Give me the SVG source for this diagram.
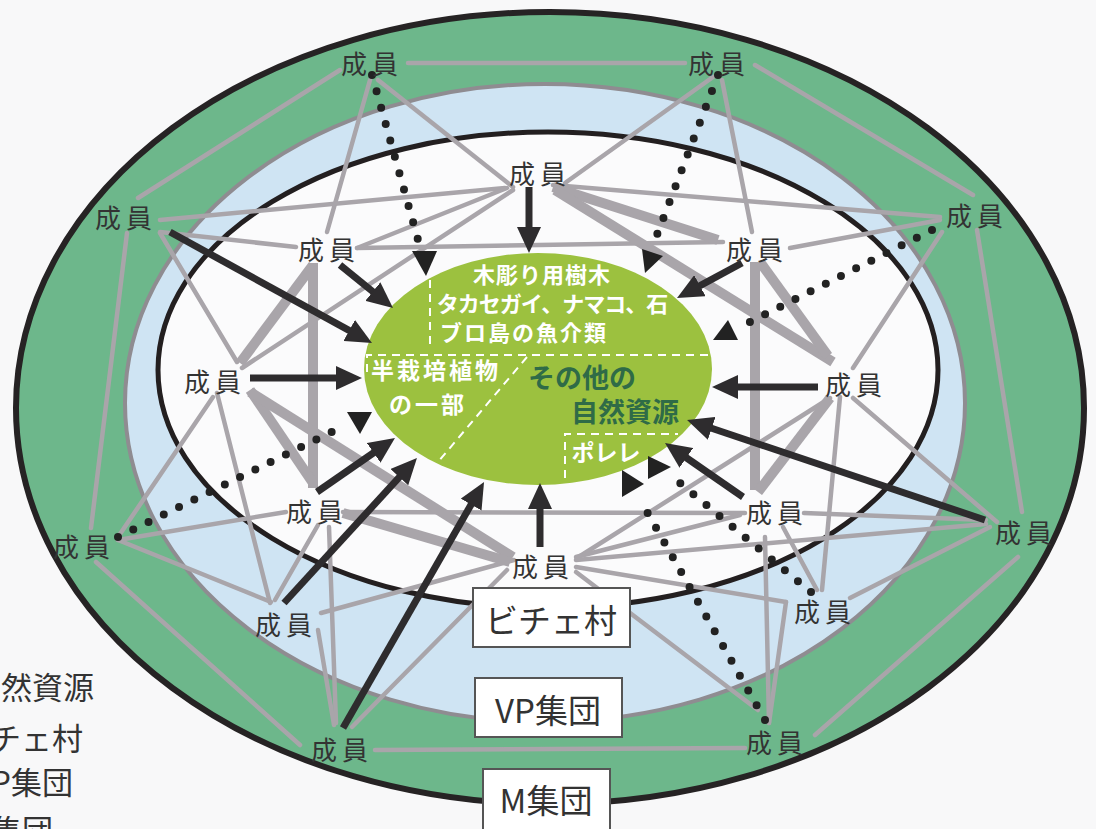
<svg xmlns="http://www.w3.org/2000/svg" width="1096" height="829" viewBox="0 0 1096 829">
<style>
.g{stroke:#a9a5aa;stroke-width:4.5;fill:none;stroke-linecap:round}
.k{stroke:#a9a5aa;stroke-width:10;fill:none;stroke-linecap:butt}
.a{stroke:#2e2c2e;stroke-width:7;fill:none;marker-end:url(#ah)}
.d{stroke:#222;stroke-width:8;fill:none;stroke-linecap:round;stroke-dasharray:0 17}
.t{fill:#222}
.m{font-family:"Noto Sans CJK JP","Noto Sans",sans-serif;font-size:26px;fill:#333;letter-spacing:5px;text-anchor:middle}
.w{font-family:"Noto Sans CJK JP","Noto Sans",sans-serif;font-weight:bold;fill:#fff;text-anchor:middle}
.dg{font-family:"Noto Sans CJK JP","Noto Sans",sans-serif;font-weight:bold;fill:#2f6b47;font-size:27px;text-anchor:middle}
.bx{fill:#fff;stroke:#555;stroke-width:2}
.bt{font-family:"Noto Sans CJK JP","Noto Sans",sans-serif;font-size:33px;fill:#333;text-anchor:middle}
.lg{font-family:"Noto Sans CJK JP","Noto Sans",sans-serif;font-size:31px;fill:#333;text-anchor:end}
.wd{stroke:#fff;stroke-width:2;fill:none;stroke-dasharray:8 6}
</style>
<defs>
<marker id="ah" viewBox="0 0 26 24" refX="4" refY="12" markerWidth="26" markerHeight="24" markerUnits="userSpaceOnUse" orient="auto"><path d="M0,0 L26,12 L0,24 z" fill="#2e2c2e"/></marker>
</defs>
<rect width="1096" height="829" fill="#f8f8f9"/>
<g id="regions">
<ellipse id="m-group" cx="550" cy="408" rx="534" ry="396" fill="#6db78b" stroke="#262324" stroke-width="6"/>
<ellipse id="vp-group" cx="545" cy="403" rx="420" ry="319" fill="#cfe4f3" stroke="#8f8c91" stroke-width="4"/>
<ellipse id="village" cx="548" cy="370" rx="390" ry="238" fill="#fbfbfc" stroke="#231f20" stroke-width="5"/>
</g>
<g id="connectors">
<g id="thin-links">
<line class="g" x1="408" y1="63" x2="685" y2="63"/>
<line class="g" x1="340" y1="70" x2="138" y2="198"/>
<line class="g" x1="370" y1="80" x2="327" y2="232"/>
<line class="g" x1="378" y1="80" x2="513" y2="187"/>
<line class="g" x1="755" y1="65" x2="973" y2="195"/>
<line class="g" x1="722" y1="80" x2="752" y2="232"/>
<line class="g" x1="713" y1="77" x2="565" y2="183"/>
<line class="g" x1="160" y1="220" x2="505" y2="188"/>
<line class="g" x1="160" y1="232" x2="296" y2="247"/>
<line class="g" x1="127" y1="233" x2="91" y2="528"/>
<line class="g" x1="160" y1="233" x2="237" y2="362"/>
<line class="g" x1="507" y1="188" x2="357" y2="248"/>
<line class="g" x1="513" y1="190" x2="242" y2="368"/>
<line class="g" x1="553" y1="185" x2="940" y2="217"/>
<line class="g" x1="357" y1="248" x2="723" y2="242"/>
<line class="g" x1="790" y1="248" x2="940" y2="220"/>
<line class="g" x1="977" y1="230" x2="1022" y2="512"/>
<line class="g" x1="942" y1="232" x2="853" y2="368"/>
<line class="g" x1="217" y1="393" x2="270" y2="603"/>
<line class="g" x1="213" y1="397" x2="118" y2="537"/>
<line class="g" x1="840" y1="397" x2="822" y2="590"/>
<line class="g" x1="853" y1="398" x2="997" y2="522"/>
<line class="g" x1="830" y1="398" x2="577" y2="558"/>
<line class="g" x1="745" y1="513" x2="343" y2="512"/>
<line class="g" x1="804" y1="513" x2="986" y2="520"/>
<line class="g" x1="765" y1="537" x2="769" y2="723"/>
<line class="g" x1="783" y1="527" x2="817" y2="590"/>
<line class="g" x1="286" y1="512" x2="118" y2="540"/>
<line class="g" x1="318" y1="525" x2="275" y2="600"/>
<line class="g" x1="329" y1="527" x2="336" y2="723"/>
<line class="g" x1="576" y1="557" x2="740" y2="515"/>
<line class="g" x1="576" y1="560" x2="986" y2="524"/>
<line class="g" x1="576" y1="567" x2="786" y2="602"/>
<line class="g" x1="786" y1="602" x2="769" y2="723"/>
<line class="g" x1="576" y1="572" x2="758" y2="710"/>
<line class="g" x1="514" y1="560" x2="321" y2="613"/>
<line class="g" x1="507" y1="570" x2="352" y2="727"/>
<line class="g" x1="96" y1="562" x2="300" y2="745"/>
<line class="g" x1="118" y1="540" x2="271" y2="602"/>
<line class="g" x1="318" y1="630" x2="334" y2="725"/>
<line class="g" x1="815" y1="735" x2="1018" y2="557"/>
<line class="g" x1="850" y1="598" x2="990" y2="527"/>
<line class="g" x1="375" y1="750" x2="745" y2="748"/>
</g>
<g id="strong-links">
<line class="k" x1="553" y1="187" x2="718" y2="240"/>
<line class="k" x1="555" y1="190" x2="833" y2="362"/>
<line class="k" x1="760" y1="262" x2="828" y2="356"/>
<line class="k" x1="755" y1="262" x2="755" y2="490"/>
<line class="k" x1="758" y1="492" x2="830" y2="398"/>
<line class="k" x1="313" y1="265" x2="240" y2="363"/>
<line class="k" x1="313" y1="263" x2="313" y2="488"/>
<line class="k" x1="250" y1="390" x2="313" y2="483"/>
<line class="k" x1="250" y1="392" x2="513" y2="557"/>
<line class="k" x1="343" y1="513" x2="510" y2="562"/>
</g>
</g>
<g id="resources">
<ellipse cx="538" cy="369" rx="174" ry="116" fill="#9cc13f"/>
<path class="wd" d="M430,280 V350"/>
<path class="wd" d="M367,372 V355 H712"/>
<path class="wd" d="M527,357 L438,462"/>
<path class="wd" d="M565,478 V434 H678"/>
<text class="w" x="542" y="283" font-size="22" letter-spacing="1">木彫り用樹木</text>
<text class="w" x="552" y="312" font-size="22" letter-spacing="-1">タカセガイ、ナマコ、石</text>
<text class="w" x="524" y="341" font-size="22" letter-spacing="2">ブロ島の魚介類</text>
<text class="w" x="436" y="379" font-size="23" letter-spacing="3">半栽培植物</text>
<text class="w" x="428" y="413" font-size="23" letter-spacing="3">の一部</text>
<text class="dg" x="582" y="388">その他の</text>
<text class="dg" x="625" y="422">自然資源</text>
<text class="w" x="606" y="461" font-size="23">ポレレ</text>
</g>
<g id="dotted-links">
<path class="d" d="M372,75 L420,247"/>
<path class="d" d="M718,75 L655,240"/>
<path class="d" d="M932,230 L740,327"/>
<path class="d" d="M118,537 L340,428"/>
<path class="d" d="M765,720 L642,503"/>
<path class="d" d="M811,592 L674,478"/>
<polygon class="t" points="412,251 437,251 426,276"/>
<polygon class="t" points="663,256 642,249 645,273"/>
<polygon class="t" points="738,340 728,320 713,340"/>
<polygon class="t" points="347,412 372,412 360,434"/>
<polygon class="t" points="622,470 644,484 622,497"/>
<polygon class="t" points="648,456 671,467 648,479"/>
</g>
<g id="use-arrows">
<line class="a" x1="529" y1="187" x2="529" y2="231"/>
<line class="a" x1="340" y1="265" x2="375.9" y2="294.1"/>
<line class="a" x1="170" y1="232" x2="352.7" y2="332.4"/>
<line class="a" x1="250" y1="378" x2="340" y2="378"/>
<line class="a" x1="742" y1="263" x2="696.4" y2="287.6"/>
<line class="a" x1="818" y1="387" x2="734" y2="387"/>
<line class="a" x1="985" y1="520" x2="707.9" y2="427"/>
<line class="a" x1="743" y1="497" x2="683.1" y2="455.5"/>
<line class="a" x1="540" y1="547" x2="540" y2="505"/>
<line class="a" x1="317" y1="492" x2="376.9" y2="450.5"/>
<line class="a" x1="284" y1="603" x2="402.1" y2="474.2"/>
<line class="a" x1="343" y1="728" x2="473.1" y2="501.1"/>
</g>
<g id="members">
<g id="n1"><text class="m" x="372" y="74">成員</text></g>
<g id="n2"><text class="m" x="719" y="74">成員</text></g>
<g id="n3"><text class="m" x="540" y="184">成員</text></g>
<g id="n4"><text class="m" x="329" y="260">成員</text></g>
<g id="n5"><text class="m" x="757" y="260">成員</text></g>
<g id="n6"><text class="m" x="126" y="228">成員</text></g>
<g id="n7"><text class="m" x="977" y="226">成員</text></g>
<g id="n8"><text class="m" x="215" y="392">成員</text></g>
<g id="n9"><text class="m" x="856" y="395">成員</text></g>
<g id="n10"><text class="m" x="84" y="557">成員</text></g>
<g id="n11"><text class="m" x="317" y="522">成員</text></g>
<g id="n12"><text class="m" x="543" y="577">成員</text></g>
<g id="n13"><text class="m" x="286" y="635">成員</text></g>
<g id="n14"><text class="m" x="342" y="760">成員</text></g>
<g id="n15"><text class="m" x="777" y="523">成員</text></g>
<g id="n16"><text class="m" x="825" y="622">成員</text></g>
<g id="n17"><text class="m" x="777" y="753">成員</text></g>
<g id="n18"><text class="m" x="1026" y="543">成員</text></g>
</g>
<g id="labels">
<g id="box-village"><rect class="bx" x="473" y="588" width="157" height="59"/><text class="bt" x="551" y="633">ビチェ村</text></g>
<g id="box-vp"><rect class="bx" x="475" y="678" width="147" height="59"/><text class="bt" x="548" y="723">VP集団</text></g>
<g id="box-m"><rect class="bx" x="483" y="769" width="127" height="70"/><text class="bt" x="546" y="813">M集団</text></g>
</g>
<g id="legend">
<text class="lg" x="94" y="699">自然資源</text>
<text class="lg" x="83" y="750">ビチェ村</text>
<text class="lg" x="73" y="794">VP集団</text>
<text class="lg" x="53" y="842">M集団</text>
</g>
</svg>
